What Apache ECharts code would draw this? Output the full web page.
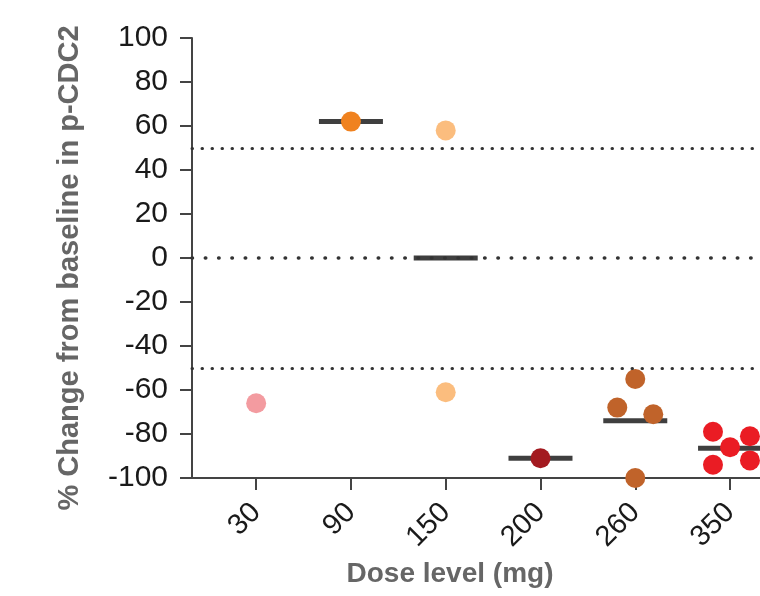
<!DOCTYPE html>
<html lang="en">
	<head>
		<meta charset="UTF-8" />
		<title>p-CDC2 change by dose</title>
		<style>
			html, body { margin: 0; padding: 0; background: #fff; }
			#dose-chart { width: 760px; height: 596px; }
		</style>
	</head>
	<body>
		<div id="dose-chart"></div>
		<script src="https://cdn.jsdelivr.net/npm/echarts@6/dist/echarts.min.js"></script>
		<script>
			// dose levels (x categories)
			const doses = ["30", "90", "150", "200", "260", "350"];
			const doseColors = ["#f39ba0", "#f0821f", "#fbbd7e", "#a31a20", "#c0632a", "#ea1c24"];

			// % change per patient, with small horizontal jitter within each dose
			const dose30 = [-66];
			const dose90 = [62];
			const dose150 = [58, -61];
			const dose200 = [-91];
			const dose260 = [-55, -68, -71, -100];
			const jitter260 = [0, -0.19, 0.19, 0];
			const dose350 = [-79, -94, -86, -81, -92];
			const jitter350 = [-0.18, -0.18, 0, 0.21, 0.21];

			// group mean bars (null = no bar)
			const means = [null, 62, 0, -91, -74, -86.5];

			// y ticks
			const yMin = -100, yMax = 100, yStep = 20;
			// dotted reference lines
			const refLines = [50, 0, -50];

			window.onload = function () {
				let chart = echarts.init(document.getElementById("dose-chart"));
				let groups = [dose30, dose90, dose150, dose200, dose260, dose350];
				let jitters = [null, null, null, null, jitter260, jitter350];

				let pointSeries = groups.map(function (vals, i) {
					return {
						type: "scatter",
						symbolSize: 20,
						z: 3,
						itemStyle: { color: doseColors[i], opacity: 1 },
						data: vals.map(function (v, k) {
							let j = jitters[i] ? jitters[i][k] : 0;
							return [i + j, v];
						}),
					};
				});

				let meanData = [];
				means.forEach(function (m, i) {
					if (m !== null) meanData.push([i, m]);
				});

				let font = "Liberation Sans, Arial, Helvetica, sans-serif";

				let option = {
					animation: false,
					grid: { left: 192, right: 0, top: 38, bottom: 118 },
					xAxis: {
						type: "value",
						min: -0.677,
						max: 5.316,
						name: "Dose level (mg)",
						nameLocation: "middle",
						nameGap: 82,
						nameTextStyle: {
							color: "#666",
							fontSize: 28,
							fontWeight: "bold",
							fontFamily: font,
							padding: [0, 52, 0, 0],
						},
						splitLine: { show: false },
						axisLine: { show: true, onZero: false, lineStyle: { color: "#444", width: 2 } },
						axisTick: {
							show: true,
							length: 12,
							customValues: [0, 1, 2, 3, 4, 5],
							lineStyle: { color: "#444", width: 2 },
						},
						axisLabel: {
							customValues: [0, 1, 2, 3, 4, 5],
							rotate: 45,
							margin: 30,
							color: "#1a1a1a",
							fontSize: 29,
							fontFamily: font,
							formatter: function (v) {
								return doses[Math.round(v)];
							},
						},
					},
					yAxis: {
						type: "value",
						min: yMin,
						max: yMax,
						interval: yStep,
						name: "% Change from baseline in p-CDC2",
						nameLocation: "middle",
						nameGap: 108,
						nameTextStyle: {
							color: "#666",
							fontSize: 29,
							fontWeight: "bold",
							fontFamily: font,
							padding: [0, 20, 0, 0],
						},
						splitLine: { show: false },
						axisLine: { show: true, onZero: false, lineStyle: { color: "#444", width: 2 } },
						axisTick: { show: true, length: 12, lineStyle: { color: "#444", width: 2 } },
						axisLabel: {
							margin: 24,
							color: "#1a1a1a",
							fontSize: 30,
							fontFamily: font,
						},
					},
					series: [
						{
							// mean bars
							type: "scatter",
							symbol: "rect",
							symbolSize: [64, 5],
							z: 2,
							itemStyle: { color: "#3f3f3f", opacity: 1 },
							data: meanData,
							markLine: {
								silent: true,
								symbol: "none",
								label: { show: false },
								data: refLines.map(function (y) {
									return {
										yAxis: y,
										lineStyle: {
											color: "#333",
											width: y === 0 ? 3.5 : 3,
											cap: "round",
											type: y === 0 ? [0.5, 12.8] : [0.5, 9.5],
										},
									};
								}),
							},
						},
					].concat(pointSeries),
				};
				chart.setOption(option);
			};
		</script>
	</body>
</html>
